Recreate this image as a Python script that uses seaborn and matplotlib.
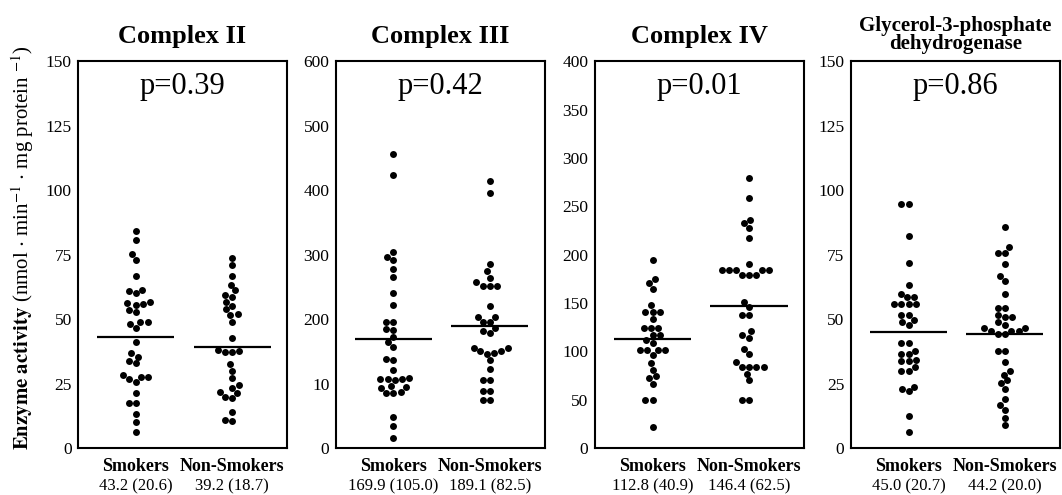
import matplotlib.pyplot as plt
import matplotlib.transforms as mtransforms
import pandas as pd
import seaborn as sns

# groups and panel info
groups = ['Smokers', 'Non-Smokers']
titles = ['Complex II', 'Complex III', 'Complex IV', 'Glycerol-3-phosphate\ndehydrogenase']
p_values = ['p=0.39', 'p=0.42', 'p=0.01', 'p=0.86']
y_ticks = [[0, 25, 50, 75, 100, 125, 150],
           [0, 100, 200, 300, 400, 500, 600],
           [0, 50, 100, 150, 200, 250, 300, 350, 400],
           [0, 25, 50, 75, 100, 125, 150]]
y_ticklabels = [['0', '25', '50', '75', '100', '125', '150'],
                ['0', '10', '200', '300', '400', '500', '600'],
                ['0', '50', '100', '150', '200', '250', '300', '350', '400'],
                ['0', '25', '50', '75', '100', '125', '150']]
mean_smk = [43.2, 169.9, 112.8, 45.0]
sd_smk = [20.6, 105.0, 40.9, 20.7]
mean_non = [39.2, 189.1, 146.4, 44.2]
sd_non = [18.7, 82.5, 62.5, 20.0]

# individual values
c2_smk = [84.1, 80.6, 75.1, 72.9, 66.7, 61.4, 60.3, 61.0, 56.5, 55.7, 55.4, 56.1,
          53.5, 52.6, 48.7, 48.2, 49.0, 46.6, 41.0, 36.7, 35.4, 33.9, 32.8, 28.3,
          27.6, 27.6, 26.6, 25.7, 21.2, 17.3, 17.3, 13.2, 10.2, 6.1]
c2_non = [73.8, 70.9, 66.7, 63.4, 61.2, 58.7, 59.3, 56.5, 55.2, 53.8, 51.8, 51.6,
          49.0, 42.8, 37.3, 38.0, 37.3, 37.6, 32.4, 29.8, 27.0, 24.4, 23.1, 21.8,
          21.2, 19.9, 19.3, 14.1, 10.9, 10.5]
c3_smk = [457, 424, 304, 297, 291, 278, 265, 240, 222, 196, 195, 183, 185, 172, 164,
          157, 137, 138, 121, 108, 105, 107, 107, 107, 96, 94, 93, 87, 86, 86, 48, 34, 16]
c3_non = [415, 395, 286, 274, 264, 252, 252, 257, 251, 221, 204, 204, 196, 196, 186,
          182, 179, 155, 151, 150, 155, 147, 146, 136, 122, 106, 106, 89, 89, 75, 75]
c4_smk = [194, 171, 175, 165, 148, 141, 141, 141, 133, 124, 124, 124, 117, 117, 112,
          109, 101, 101, 101, 101, 96, 88, 81, 72, 74, 66, 50, 50, 22]
c4_non = [279, 259, 236, 233, 228, 217, 190, 184, 184, 184, 184, 184, 179, 179, 179,
          151, 146, 138, 138, 121, 117, 114, 102, 97, 89, 84, 84, 84, 84, 77, 70, 50, 50]
g3p_smk = [94.7, 94.7, 82.2, 71.9, 63.3, 59.9, 58.4, 58.4, 55.8, 55.8, 55.8, 55.8,
           51.5, 51.5, 49.6, 48.7, 47.8, 40.6, 40.6, 37.5, 36.5, 36.5, 34.1, 33.6,
           33.6, 31.3, 30.0, 30.0, 22.9, 22.0, 23.6, 12.6, 6.2]
g3p_non = [85.7, 78.0, 75.8, 75.8, 71.3, 66.8, 64.8, 59.9, 54.5, 54.5, 51.7, 50.9,
           50.9, 48.7, 47.8, 46.5, 46.5, 45.5, 45.5, 45.5, 44.2, 44.2, 37.8, 37.8,
           33.2, 30.0, 28.5, 26.2, 25.1, 22.9, 19.1, 16.5, 14.6, 11.7, 8.8]

panels = [(c2_smk, c2_non), (c3_smk, c3_non), (c4_smk, c4_non), (g3p_smk, g3p_non)]

sns.set_theme(style='white')
plt.rcParams['font.family'] = ['Liberation Serif', 'DejaVu Serif']
plt.rcParams['mathtext.fontset'] = 'stix'
plt.rcParams['text.color'] = 'black'
plt.rcParams['axes.labelcolor'] = 'black'
plt.rcParams['xtick.color'] = 'black'
plt.rcParams['ytick.color'] = 'black'

fig = plt.figure(figsize=(10.62, 4.95), dpi=100)
lefts = [0.0734, 0.316, 0.560, 0.801]

for k in range(4):
    ax = fig.add_axes([lefts[k], 0.095, 0.197, 0.781])
    smk, non = panels[k]
    df = pd.DataFrame({'group': [groups[0]] * len(smk) + [groups[1]] * len(non),
                       'value': smk + non})
    sns.swarmplot(data=df, x='group', y='value', order=groups, color='black',
                  size=5.0, ax=ax)
    means = [mean_smk[k], mean_non[k]]
    ax.hlines(means, [i - 0.4 for i in range(2)], [i + 0.4 for i in range(2)],
              color='black', lw=1.6, zorder=3)

    ax.set_xlim(-0.6, 1.57)
    ax.set_ylim(y_ticks[k][0], y_ticks[k][-1])
    ax.set_yticks(y_ticks[k])
    ax.set_yticklabels(y_ticklabels[k], fontsize=12.5)
    ax.set_xticks([0, 1])
    ax.set_xticklabels(groups, fontsize=13, fontweight='bold')
    ax.set_xlabel('')
    ax.set_ylabel('')
    ax.tick_params(axis='y', direction='out', length=2.5, width=2.5, pad=2,
                   color='black', labelcolor='black')
    ax.tick_params(axis='x', direction='out', length=3, width=3, pad=4,
                   color='black', labelcolor='black')
    for s in ax.spines.values():
        s.set_color('black')
        s.set_linewidth(1.5)

    trans = mtransforms.blended_transform_factory(ax.transData, ax.transAxes)
    stats = ['%.1f (%.1f)' % (mean_smk[k], sd_smk[k]), '%.1f (%.1f)' % (mean_non[k], sd_non[k])]
    for i, s in enumerate(stats):
        ax.text(i, -0.1, s, transform=trans, ha='center', va='center', fontsize=12,
                color='black')

    ax.text(0.5, 0.935, p_values[k], transform=ax.transAxes, ha='center', va='center',
            fontsize=22, color='black')
    if k == 3:
        ax.set_title(titles[k], fontsize=15, fontweight='bold', pad=9, linespacing=0.85,
                     color='black')
    else:
        ax.set_title(titles[k], fontsize=19, fontweight='bold', pad=13, color='black')

fig.text(0.021, 0.5,
         r'$\mathbf{Enzyme\ activity}$ (nmol $\cdot$ min$^{-1}$ $\cdot$ mg protein $^{-1}$)',
         rotation=90, ha='center', va='center', fontsize=15, color='black')

fig.savefig('out.png', dpi=100, facecolor='white')
